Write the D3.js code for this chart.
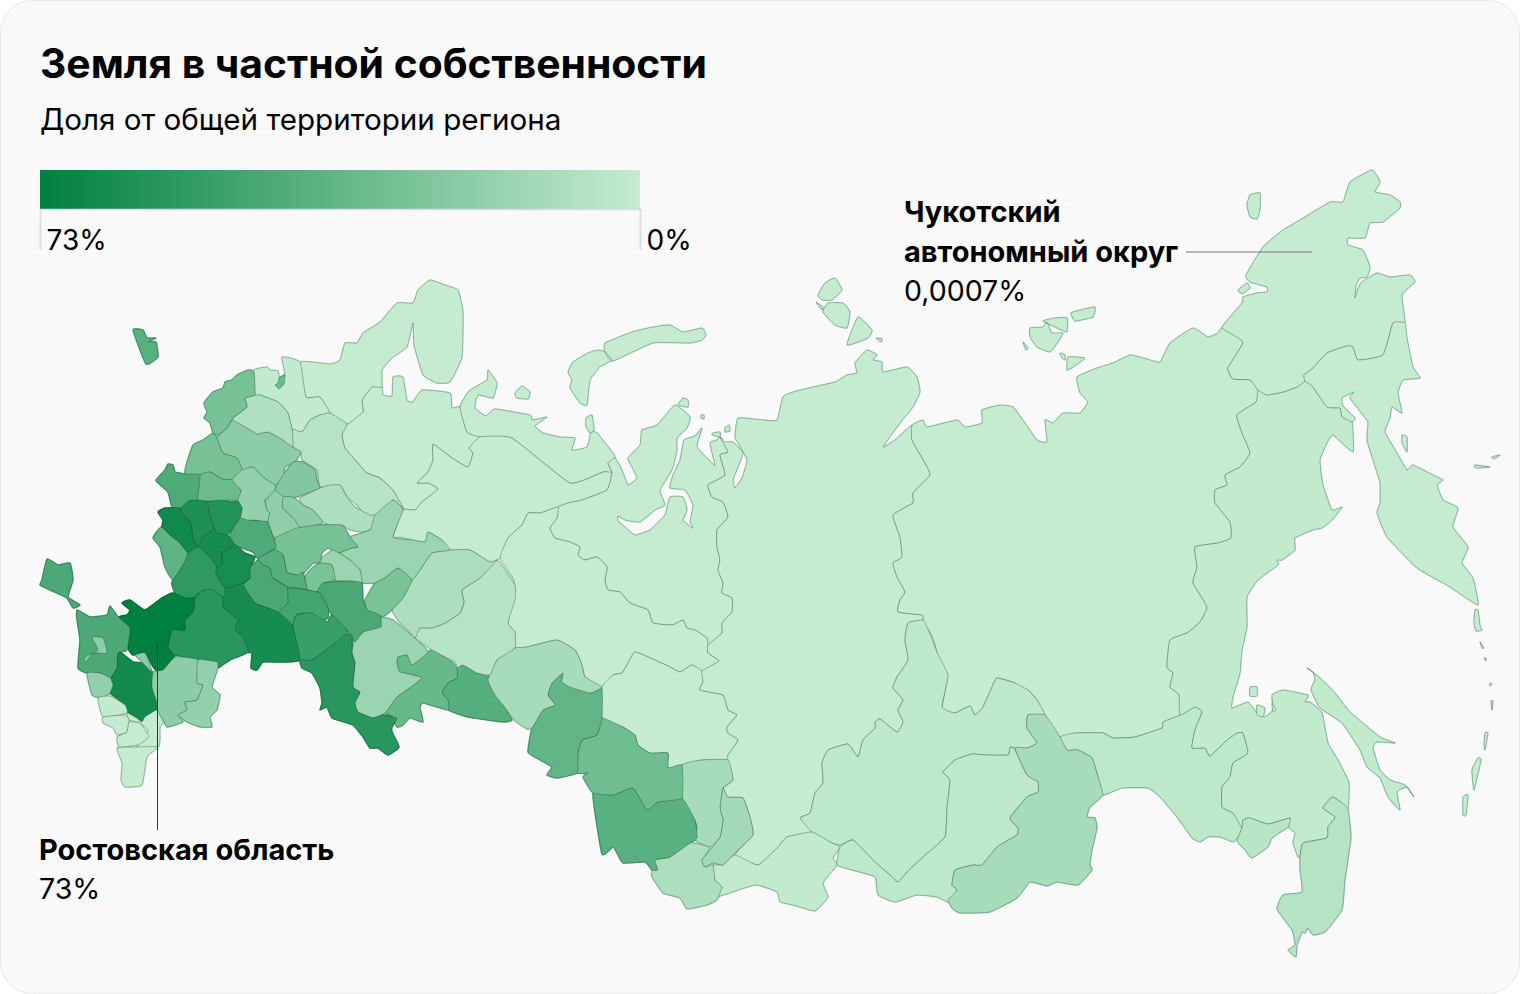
<!DOCTYPE html>
<html lang="ru">
<head>
<meta charset="utf-8">
<title>Земля в частной собственности</title>
<script src="https://cdn.jsdelivr.net/npm/d3@7"></script>
<style>
  html, body { margin: 0; padding: 0; background: #fff; }
  text { font-family: Inter, "Noto Sans", sans-serif; fill: #000; }
</style>
</head>
<body>
<svg id="chart" width="1520" height="994"></svg>
<script>
// ---------- data ----------
const titleText = 'Земля в частной собственности';
const subtitleText = 'Доля от общей территории региона';
const legendTicks = [73, 0];
const callouts = [
    { lines: ['Чукотский', 'автономный округ'], value: '0,0007%' },
    { lines: ['Ростовская область'], value: '73%' }
];

// share of private land, %. Light ones first
// because later regions are painted over the earlier ones
const regionNames = [
    'arkhangelsk', 'nenets', 'komi', 'yamal', 'khanty', 'tomsk', 'krasnoyarsk', 'yakutia', 'irkutsk', 'tuva',
    'buryatia', 'amur', 'khabarovsk', 'chukotka', 'kamchatka', 'sakhalin', 'arctic', 'murmansk', 'karelia',
    'primorye', 'jewish', 'zabaykalye', 'altaiRep', 'khakassia', 'kemerovo', 'altai', 'novosibirsk', 'omsk',
    'kurgan', 'chelyabinsk', 'sverdlovsk', 'perm', 'udmurtia', 'kirov', 'vologda', 'yaroslavl', 'tver',
    'novgorod', 'pskov', 'leningrad', 'onega', 'ivanovo', 'kostroma', 'vladimir', 'moscow', 'smolensk',
    'bryansk', 'kaluga', 'tula', 'ryazan', 'nizhny', 'mordovia', 'chuvashia', 'tatarstan', 'bashkiria',
    'ulyanovsk', 'penza', 'samara', 'orenburg', 'saratov', 'tambov', 'lipetsk', 'orel', 'kursk', 'belgorod',
    'voronezh', 'voronezhEast', 'volgograd', 'rostov', 'krasnodar', 'adygea', 'stavropol', 'sliver', 'kalmykia', 'astrakhan',
    'karachay', 'kabardino', 'ossetia', 'chechnya', 'ingushetia', 'dagestan', 'crimea', 'kaliningrad'
];
const regionShares = [
    0, 0, 0, 0, 0, 0, 0, 0, 3, 1,
    3, 3, 1, 0.0007, 0, 1, 0, 0, 1,
    6, 5, 11, 9, 13, 11, 40, 32, 37,
    41, 35, 11, 6, 16, 9, 6, 9, 21,
    8, 29, 29, 33, 33, 16, 19, 20, 44,
    38, 25, 21, 29, 28, 16, 28, 46, 42,
    46, 48, 52, 58, 65, 44, 65, 67, 62, 60,
    56, 64, 58, 73, 45, 21, 66, 21, 21, 19,
    19, 1, 0, 0, 0, 0, 45, 40
];

// outlines, map units are screen pixels
const regionOutlines = {
    arkhangelsk: ['347,424 363,412 362,400 372,387 382,387 383,395 392,396 393,377 403,377 407,400 413,402 422,390 450,393 452,408 460,407 467,432 480,437 469,448 473,453 468,467 452,458 433,444 433,460 428,472 417,483 428,483 438,489 422,502 415,510 403,508 393,490 380,478 367,473 357,462 345,448 342,435'],
    nenets: ['460,407 469,391 487,380 488,370 497,383 493,398 478,395 475,408 486,416 495,409 530,415 532,420 547,417 535,426 543,433 560,437 575,438 572,450 587,447 591,432 597,433 613,453 615,458 608,463 612,473 603,472 570,483 512,438 480,437 467,432'],
    komi: ['480,437 512,438 570,483 603,472 612,473 607,490 582,500 568,503 558,507 540,513 528,513 522,525 508,538 500,558 490,562 470,550 450,550 442,540 428,532 425,542 413,540 400,537 393,537 403,510 415,510 422,502 438,489 428,483 417,483 428,472 433,460 433,444 452,458 468,467 473,453 469,448'],
    yamal: ['558,507 568,503 582,500 607,490 612,473 608,463 615,458 622,470 628,485 637,478 632,467 628,458 640,445 642,430 657,425 675,405 690,417 687,428 677,438 677,450 672,470 660,490 665,505 655,510 640,522 625,520 618,516 618,521 625,527 635,535 650,530 665,515 670,497 683,497 687,510 683,520 692,528 693,527 690,522 693,505 685,490 670,488 673,475 680,460 684,440 695,436 702,428 697,447 712,463 715,465 710,443 717,440 720,437 728,452 720,455 725,475 708,485 712,497 723,502 728,517 717,530 717,547 720,560 718,570 723,583 722,593 732,598 732,612 722,623 722,633 708,645 707,638 695,630 687,628 683,620 672,625 653,623 648,610 630,603 620,592 608,590 605,580 607,567 597,557 585,560 578,555 580,547 570,542 555,538 550,528 557,518'],
    khanty: ['500,558 508,538 522,525 528,513 540,513 558,507 557,518 550,528 555,538 570,542 580,547 578,555 585,560 597,557 607,567 605,580 608,590 620,592 630,603 648,610 653,623 672,625 683,620 687,628 695,630 707,638 708,645 708,653 719,661 702,671 692,665 680,672 670,667 657,661 635,652 627,665 622,673 613,675 602,687 585,677 582,665 575,650 557,640 527,647 515,648 515,632 508,623 515,590 513,578'],
    tomsk: ['602,687 613,675 622,673 627,665 635,652 657,661 670,667 680,672 692,665 702,671 703,682 700,690 723,695 728,710 737,715 727,727 728,733 738,740 728,755 728,760 702,760 682,765 668,768 668,753 650,753 638,745 635,735 623,727 602,718'],
    krasnoyarsk: ['720,437 725,442 733,442 743,453 738,467 733,480 735,488 742,478 747,460 738,443 735,437 738,418 763,420 777,420 783,397 793,392 813,387 835,382 847,375 857,373 855,363 867,350 877,355 873,360 882,362 883,372 907,367 917,377 920,392 913,407 900,423 883,447 895,440 912,425 912,440 925,463 930,475 913,493 913,503 893,515 900,537 902,557 893,563 897,577 905,592 900,600 898,612 922,615 923,620 908,623 905,640 908,660 897,677 893,688 903,700 898,710 903,722 897,732 880,719 875,722 875,728 863,740 858,757 848,744 828,750 822,763 823,783 815,793 810,813 800,818 812,832 787,837 778,847 758,865 735,855 753,835 750,817 743,798 728,797 723,788 733,780 728,760 728,755 738,740 728,733 727,727 737,715 728,710 723,695 700,690 703,682 702,671 719,661 708,653 708,645 722,633 722,623 732,612 732,598 722,593 723,583 718,570 720,560 717,547 717,530 728,517 723,502 712,497 708,485 725,475 720,455 728,452'],
    yakutia: ['912,425 923,420 927,427 957,420 965,427 982,423 982,410 1000,405 1013,407 1025,423 1037,440 1047,442 1045,420 1053,423 1063,413 1080,413 1088,402 1080,393 1077,377 1097,368 1113,363 1130,355 1147,359 1160,362 1170,343 1193,328 1208,337 1218,333 1222,328 1243,342 1228,368 1233,379 1250,380 1258,390 1256,402 1237,415 1242,433 1250,453 1240,467 1225,475 1227,485 1215,490 1215,503 1230,522 1231,538 1218,543 1195,547 1197,567 1193,583 1207,607 1200,622 1187,633 1170,640 1167,667 1173,673 1170,687 1179,695 1180,715 1163,722 1162,728 1135,737 1113,738 1103,733 1075,733 1060,737 1045,715 1037,700 1028,690 1018,693 1015,683 997,678 992,687 983,707 975,715 970,706 955,713 943,713 942,707 948,675 940,670 937,652 933,638 928,629 922,628 923,620 922,615 898,612 900,600 905,592 897,577 893,563 902,557 900,537 893,515 913,503 913,493 930,475 925,463 912,440'],
    irkutsk: ['908,623 923,620 928,629 937,652 948,675 942,707 955,713 970,706 975,715 983,707 992,687 997,678 1015,683 1028,690 1037,700 1045,715 1028,715 1027,728 1037,743 1027,748 1015,748 1010,747 1008,755 985,755 972,754 955,760 943,772 950,780 947,808 945,837 923,857 907,872 898,882 890,875 875,862 853,840 840,845 832,843 812,832 800,818 810,813 815,793 823,783 822,763 828,750 848,744 858,757 863,740 875,728 875,722 880,719 897,732 903,722 898,710 903,700 893,688 897,677 908,660 905,640'],
    tuva: ['735,855 723,865 713,865 715,880 722,887 717,897 755,885 777,892 780,902 793,905 815,911 828,897 823,883 837,865 833,858 840,847 832,843 812,832 787,837 778,847 758,865'],
    buryatia: ['840,847 853,840 875,862 890,875 898,882 907,872 923,857 945,837 947,808 950,780 943,772 955,760 972,754 985,755 1008,755 1010,747 1015,750 1027,775 1038,782 1038,792 1027,797 1010,818 1018,828 1017,835 997,847 982,865 973,865 955,870 952,885 957,890 948,902 937,897 917,895 895,902 878,895 875,877 852,870 837,865'],
    amur: ['1103,795 1122,788 1148,788 1160,797 1177,817 1192,838 1200,842 1208,837 1220,837 1233,842 1238,837 1242,828 1233,813 1222,807 1222,787 1230,777 1233,763 1248,753 1243,733 1237,733 1227,740 1210,756 1205,748 1192,748 1195,730 1202,712 1195,707 1180,715 1163,722 1162,728 1135,737 1113,738 1103,733 1075,733 1060,737 1067,750 1078,750 1092,758 1098,777'],
    khabarovsk: ['1256,402 1258,390 1267,395 1283,392 1297,387 1305,381 1313,387 1327,407 1340,408 1342,417 1352,422 1353,452 1333,435 1327,443 1320,460 1323,485 1332,510 1342,507 1332,520 1322,528 1313,530 1295,538 1295,550 1282,560 1277,560 1278,565 1258,580 1247,597 1247,627 1242,650 1240,673 1233,697 1232,708 1248,702 1257,713 1265,717 1273,710 1272,695 1283,690 1308,695 1305,702 1310,702 1322,713 1328,743 1338,760 1349,783 1348,809 1342,803 1332,797 1323,808 1335,817 1328,827 1327,838 1303,843 1300,857 1298,857 1293,843 1295,833 1288,827 1290,818 1268,824 1250,818 1243,820 1242,828 1233,813 1222,807 1222,787 1230,777 1233,763 1248,753 1243,733 1237,733 1227,740 1210,756 1205,748 1192,748 1195,730 1202,712 1195,707 1180,715 1179,695 1170,687 1173,673 1167,667 1170,640 1187,633 1200,622 1207,607 1193,583 1197,567 1195,547 1218,543 1231,538 1230,522 1215,503 1215,490 1227,485 1225,475 1240,467 1250,453 1242,433 1237,415'],
    chukotka: ['1222,328 1230,317 1242,303 1243,297 1257,293 1267,292 1267,287 1250,282 1246,275 1263,247 1283,230 1300,220 1330,202 1343,202 1350,182 1372,170 1380,182 1375,192 1390,195 1400,202 1400,208 1383,222 1370,223 1365,238 1348,238 1348,245 1363,250 1370,267 1367,277 1360,278 1356,285 1355,298 1358,288 1362,282 1377,273 1390,277 1410,275 1415,282 1402,295 1405,323 1393,323 1383,355 1358,360 1353,347 1347,346 1327,353 1313,368 1304,375 1305,381 1297,387 1283,392 1267,395 1258,390 1250,380 1233,379 1228,368 1243,342'],
    kamchatka: ['1304,375 1313,368 1327,353 1347,346 1353,347 1358,360 1383,355 1393,323 1405,323 1407,338 1413,367 1420,378 1403,380 1398,393 1402,413 1392,407 1390,418 1385,432 1397,453 1407,470 1413,465 1433,475 1443,480 1437,485 1443,500 1458,508 1453,527 1468,547 1462,563 1473,578 1478,605 1450,587 1417,568 1387,537 1377,513 1380,503 1380,483 1373,460 1367,440 1368,422 1363,415 1350,398 1354,392 1342,398 1343,406 1355,418 1352,422 1342,417 1340,408 1327,407 1313,387 1305,381'],
    sakhalin: ['1307,668 1313,672 1315,680 1311,690 1320,708 1342,723 1360,750 1367,767 1380,778 1388,797 1400,810 1397,792 1407,787 1414,797 1405,785 1390,780 1380,770 1373,748 1377,742 1395,743 1380,737 1350,712 1335,693 1320,678'],
    arctic: [
        '568,372 573,362 588,353 598,350 605,352 612,360 600,367 590,380 587,405 580,403 570,388 572,380',
        '605,343 632,332 653,327 670,325 683,332 702,328 706,335 702,340 690,343 653,343 613,361 605,352',
        '515,393 522,386 530,392 528,399 517,398',
        '586,418 592,415 594,430 590,433 586,427',
        '678,405 683,398 688,400 688,407',
        '713,433 720,432 720,437 712,435',
        '725,428 729,425 730,431 725,432',
        '701,415 704,415 704,419 701,418',
        '818,295 825,283 835,278 842,290 832,300 822,300',
        '823,312 828,303 843,303 850,312 847,328 835,325',
        '847,345 858,317 872,330 868,338',
        '816,302 823,307 822,310',
        '876,338 882,339 881,342',
        '1030,328 1043,327 1047,322 1052,333 1063,333 1058,342 1050,352 1037,347 1030,337',
        '1043,321 1055,318 1067,318 1067,332 1055,327',
        '1071,313 1080,310 1095,307 1093,317 1075,321',
        '1068,357 1085,358 1073,367 1067,370',
        '1060,353 1065,355 1065,360 1062,358',
        '1023,342 1028,348 1026,350',
        '1250,195 1260,193 1260,210 1257,219 1250,217 1247,205',
        '1238,290 1247,283 1250,288 1242,294',
        '1402,435 1407,437 1407,452 1402,443',
        '1475,465 1490,467 1476,468',
        '1492,457 1500,455 1494,459',
        '1475,610 1478,610 1480,625 1482,630 1476,631 1474,622',
        '1480,642 1484,648 1482,648',
        '1484,658 1486,658 1486,661',
        '1490,683 1492,684 1490,686',
        '1491,701 1493,701 1492,710',
        '1485,733 1488,733 1485,750 1484,745',
        '1478,758 1481,760 1474,790 1472,770',
        '1463,797 1468,795 1466,815 1463,815',
        '1250,687 1257,687 1257,696 1250,696',
        '1257,705 1265,708 1263,717 1257,715',
        '1272,703 1276,710 1273,712'
    ],
    murmansk: ['430,280 445,285 458,290 463,312 462,357 450,382 437,383 423,375 414,345 413,323 407,347 392,358 382,370 382,387 372,387 362,400 363,412 347,424 330,413 320,397 306,397 300,362 330,364 340,360 345,343 357,343 363,333 380,322 397,303 413,303 418,290'],
    karelia: ['254,370 267,367 270,370 278,371 280,380 285,375 282,357 300,362 306,397 320,397 330,413 320,415 310,420 302,432 292,429 288,413 278,402 260,395 255,395'],
    primorye: ['1300,857 1303,843 1327,838 1328,827 1335,817 1323,808 1332,797 1342,803 1348,809 1351,837 1345,880 1342,910 1325,932 1313,935 1308,928 1305,933 1302,932 1297,945 1296,957 1288,950 1295,945 1292,930 1277,909 1283,895 1302,892 1300,870'],
    jewish: ['1242,828 1243,820 1250,818 1268,824 1290,818 1288,827 1272,838 1268,847 1252,858 1245,850 1237,841'],
    zabaykalye: ['1015,748 1027,748 1037,743 1027,728 1028,715 1045,715 1060,737 1067,750 1078,750 1092,758 1098,777 1103,795 1090,807 1087,817 1095,818 1097,828 1092,850 1090,865 1092,870 1078,885 1057,882 1047,886 1030,882 1017,898 990,912 960,913 952,908 948,900 957,890 952,885 955,870 973,865 982,865 997,847 1017,835 1018,828 1010,818 1027,797 1038,792 1038,782 1027,775'],
    altaiRep: ['652,870 655,860 670,857 690,843 710,847 702,860 705,867 713,865 715,880 722,887 717,900 707,905 687,909 680,898 663,893 652,877'],
    khakassia: ['723,788 728,797 743,798 750,817 753,835 735,853 723,865 713,863 705,867 702,860 712,848 720,837 723,820 720,808'],
    kemerovo: ['682,765 702,760 728,760 733,780 723,788 720,808 723,820 720,837 710,847 695,840 697,825 682,798'],
    altai: ['593,794 613,795 633,788 647,810 658,802 682,798 695,820 697,838 690,843 670,857 655,860 658,870 652,870 645,862 623,863 617,853 613,847 602,854'],
    novosibirsk: ['602,718 623,727 635,735 638,745 650,753 668,753 668,768 682,765 682,798 658,802 647,810 633,788 613,795 593,793 583,777 588,773 577,773 578,753 582,740 597,735'],
    omsk: ['562,673 563,682 590,693 602,688 602,718 597,735 582,740 578,753 577,773 557,778 547,775 552,767 540,760 528,752 532,728 543,710 555,705 548,695 552,683'],
    kurgan: ['457,668 463,665 477,673 489,673 488,680 495,695 503,705 512,720 503,722 468,717 448,710 448,700 442,693 448,683 457,678'],
    chelyabinsk: ['397,663 398,657 407,655 412,665 427,653 432,650 452,662 457,668 457,678 448,683 442,693 448,700 448,710 423,703 420,708 423,722 410,718 403,725 397,727 392,716 385,713 397,697 422,678 400,672'],
    sverdlovsk: ['488,680 497,660 515,648 527,647 557,640 575,650 582,665 585,677 602,687 590,693 570,687 562,682 563,673 552,683 548,695 555,705 543,710 532,728 527,729 515,721 503,705 495,695'],
    perm: ['462,590 480,578 497,560 515,585 515,600 508,623 515,632 515,648 497,660 490,675 477,673 463,665 457,668 455,662 432,650 415,638 420,628 432,628 445,623 460,613 464,602'],
    udmurtia: ['352,653 355,640 380,618 393,620 415,638 428,652 412,665 407,655 398,657 397,663 400,672 422,678 397,697 385,713 373,718 358,712 355,703 360,692 353,687 355,663'],
    kirov: ['392,610 403,598 412,580 420,570 432,553 450,550 470,550 490,562 497,560 480,578 462,590 464,602 460,613 445,623 432,628 420,628 415,638 408,630 400,623'],
    vologda: ['292,429 302,432 310,420 320,415 330,413 347,424 342,435 345,448 357,462 367,473 380,478 393,490 403,508 393,500 378,515 367,517 357,505 347,497 340,485 320,487 317,470 302,460 301,452 293,447'],
    yaroslavl: ['300,498 320,488 330,485 340,485 347,497 355,507 370,515 378,515 373,528 363,532 350,530 342,525 337,528 323,522 313,510 303,505'],
    tver: ['233,420 247,428 257,434 268,432 283,440 293,447 301,452 295,462 285,467 283,478 275,485 263,477 253,467 242,470 237,458 223,453 217,438 227,428'],
    novgorod: ['233,418 247,407 245,398 255,395 260,395 278,402 288,413 292,429 293,447 283,440 268,432 257,434 247,428 233,420'],
    pskov: ['213,433 217,438 223,453 237,458 242,470 232,480 222,479 210,472 200,475 185,474 187,462 193,445 203,440'],
    leningrad: ['248,370 254,372 255,395 245,398 247,407 233,418 227,428 218,435 213,433 210,423 204,418 207,412 204,403 213,392 223,388 225,382 232,380 237,375'],
    onega: ['275,385 279,389 284,384 285,375 279,378 278,383'],
    ivanovo: ['200,475 210,472 222,479 232,480 241,490 238,500 227,500 220,502 208,501 197,500'],
    kostroma: ['350,537 370,530 375,515 393,500 403,510 393,537 413,540 425,542 428,532 442,540 450,550 432,553 420,570 412,580 398,568 385,578 375,583 362,583 360,570 350,560 340,553 352,548 358,547'],
    vladimir: ['232,480 242,470 253,467 263,477 275,485 275,492 265,500 267,510 270,513 267,522 255,520 242,522 240,518 242,508 238,500 241,490'],
    moscow: ['266,500 275,490 285,497 283,508 295,520 300,528 275,538 268,522 270,513 267,510 265,500'],
    smolensk: ['156,480 165,470 168,464 173,465 175,472 185,474 200,475 197,500 189,501 181,508 172,507 168,492 158,483'],
    bryansk: ['153,538 158,530 162,527 170,535 179,542 188,553 185,562 173,580 165,567 160,547'],
    kaluga: ['283,475 293,462 303,462 315,470 317,480 320,488 310,492 297,497 285,497 275,490 278,483'],
    tula: ['283,497 293,497 303,505 313,510 323,522 317,525 305,528 300,528 295,520 283,508'],
    ryazan: ['275,538 297,528 317,525 342,525 350,537 358,547 352,548 338,553 328,548 322,553 320,563 313,563 305,572 297,575 287,572 283,555 275,550'],
    nizhny: ['365,600 375,583 385,578 398,568 412,580 403,598 392,610 382,617 367,610'],
    mordovia: ['322,558 333,550 350,560 360,570 362,583 350,581 335,580 332,565 320,563'],
    chuvashia: ['305,577 312,568 320,563 332,565 335,580 323,583 317,592 307,589'],
    tatarstan: ['317,592 323,583 350,581 362,583 363,600 367,610 380,615 381,627 363,632 355,642 347,630 332,615 328,608 320,593'],
    bashkiria: ['275,550 283,555 287,572 297,575 303,572 305,580 307,589 297,588 288,587 280,582 272,577 270,568 263,565 258,558'],
    ulyanovsk: ['250,568 258,560 263,565 270,568 272,577 280,583 288,588 288,603 278,613 268,608 255,603 243,585 250,578'],
    penza: ['288,588 307,590 320,593 328,608 328,618 317,622 307,613 295,615 293,625 278,613 288,603'],
    samara: ['293,627 297,615 312,613 327,622 332,615 347,630 345,637 330,647 312,660 300,660'],
    orenburg: ['300,660 312,660 330,647 345,635 352,635 352,653 355,663 353,687 360,692 355,703 358,712 373,718 383,715 397,718 392,727 392,732 399,747 388,755 378,748 370,748 363,737 353,725 332,718 327,707 320,710 322,703 320,688 312,673 302,668'],
    saratov: ['225,588 243,583 250,578 243,585 255,603 268,608 278,612 292,625 300,660 278,662 263,662 257,670 251,668 252,653 248,652 243,637 235,630 238,620 223,607 223,598'],
    tambov: ['230,537 232,530 240,518 247,520 267,522 273,537 276,547 258,558 253,552 242,548 235,545'],
    lipetsk: ['195,545 203,538 214,528 217,533 227,535 235,545 222,553 222,565 217,567 208,555'],
    orel: ['158,512 165,508 181,508 183,515 191,523 193,537 198,547 188,553 179,542 170,535 162,527 163,520'],
    kursk: ['181,508 189,501 198,500 208,502 209,512 214,528 203,537 198,547 193,537 191,523 183,515'],
    belgorod: ['208,502 220,500 230,502 238,502 242,508 240,518 230,532 227,535 217,533 214,528 209,512'],
    voronezh: ['172,582 185,562 188,553 198,547 208,555 217,567 216,573 225,588 225,597 215,593 203,590 193,598 185,600 175,593'],
    voronezhEast: ['217,567 222,565 222,553 235,545 245,553 255,557 250,568 250,578 243,583 225,588 216,573'],
    volgograd: ['195,598 205,590 213,590 223,598 223,607 238,620 235,630 243,637 248,652 230,660 218,668 217,662 198,660 190,658 175,655 168,647 172,630 185,630 185,620 193,612'],
    rostov: ['122,603 130,600 145,610 162,598 173,593 187,598 195,598 193,612 185,620 185,630 172,630 168,647 175,657 180,662 170,668 158,672 152,665 145,653 133,655 128,648 130,628 119,617 127,615 130,610'],
    krasnodar: ['77,610 90,617 107,615 110,606 118,617 130,628 127,650 118,653 117,668 110,678 100,673 87,673 78,668 80,640 77,620'],
    adygea: ['85,663 93,653 107,653 103,638 92,637 98,650 85,657'],
    stavropol: ['120,652 133,662 143,663 153,673 152,687 157,703 157,710 145,717 142,722 135,717 127,712 125,705 110,693 112,677 117,668 118,655'],
    sliver: ['135,655 145,653 152,672 140,660'],
    kalmykia: ['153,672 163,670 175,657 190,658 198,660 197,683 203,685 197,700 185,702 187,710 178,715 183,722 167,727 162,717 157,712 157,703 152,687'],
    astrakhan: ['198,660 217,662 218,668 212,687 220,695 217,710 210,717 212,727 200,727 187,722 178,715 187,710 185,702 197,700 203,685 197,683'],
    karachay: ['87,673 100,673 110,678 113,685 110,693 102,698 92,695'],
    kabardino: ['98,698 110,696 125,705 127,713 103,717'],
    ossetia: ['135,717 142,722 145,717 157,710 163,723 160,727 160,740 158,747 137,747 145,735 148,730 140,723 129,720 127,713'],
    chechnya: ['103,717 125,715 129,720 127,732 117,735 113,728 103,723'],
    ingushetia: ['117,737 127,732 129,722 140,723 145,730 149,737 138,745 119,747'],
    dagestan: ['117,748 137,747 158,747 147,757 142,785 125,787 121,780 122,763'],
    crimea: ['47,559 58,565 70,563 73,580 68,597 80,605 73,608 67,598 50,590 40,585 42,580'],
    kaliningrad: ['133,330 143,330 147,338 156,338 148,342 156,342 158,357 146,364']
};

// ---------- scales ----------
const legendX = d3.scaleLinear().domain([73, 0]).range([40, 640]);
const color = d3.scaleLinear().domain([73, 0]).range(['#008040', '#c5ecd0']);

const svg = d3.select('#chart');

// card behind everything
svg.append('rect')
    .attr('x', 0.5).attr('y', 0.5)
    .attr('width', 1519).attr('height', 993)
    .attr('rx', 32)
    .attr('fill', '#f9f9f9')
    .attr('stroke', '#e6e6e6');

// title block
svg.append('text').attr('x', 40).attr('y', 78)
    .attr('font-size', 40.8).attr('font-weight', 700)
    .text(titleText);
svg.append('text').attr('x', 40).attr('y', 130)
    .attr('font-size', 29.6).attr('font-weight', 400)
    .text(subtitleText);

// legend gradient, stops come from the same colour scale
const grad = svg.append('defs').append('linearGradient').attr('id', 'legend-grad');
grad.selectAll('stop')
    .data(legendTicks)
    .join('stop')
    .attr('offset', d => (legendX(d) - 40) / 600)
    .attr('stop-color', d => color(d));

svg.append('rect')
    .attr('x', 40).attr('y', 170)
    .attr('width', 600).attr('height', 39)
    .attr('fill', 'url(#legend-grad)');

const legendAxis = d3.axisBottom(legendX)
    .tickValues(legendTicks)
    .tickSize(41)
    .tickFormat(d => d + '%');
const legendG = svg.append('g')
    .attr('transform', 'translate(0,209)')
    .call(legendAxis);
legendG.select('.domain').attr('stroke', '#dcdcdc').attr('stroke-width', 1.5);
legendG.selectAll('.tick line').attr('stroke', '#dcdcdc').attr('stroke-width', 1.5);
legendG.selectAll('.tick text')
    .attr('text-anchor', 'start')
    .attr('x', 6).attr('y', 41).attr('dy', 0)
    .attr('font-size', 28).attr('font-family', 'Inter');

// map, a tight cardinal curve only takes the sharpest corners off the traced rings
const ringPath = d3.line().curve(d3.curveCardinalClosed.tension(0.6));
const regions = regionNames.map((name, i) => ({
    name,
    share: regionShares[i],
    d: regionOutlines[name]
        .map(ring => ringPath(ring.split(' ').map(p => p.split(',').map(Number))))
        .join('')
}));

const map = svg.append('g');

// same shapes in their own colour first, it closes hairline gaps between neighbours
map.append('g').selectAll('path')
    .data(regions)
    .join('path')
    .attr('d', d => d.d)
    .attr('fill', d => color(d.share))
    .attr('stroke', d => color(d.share))
    .attr('stroke-width', 1.6);

map.append('g').selectAll('path')
    .data(regions)
    .join('path')
    .attr('d', d => d.d)
    .attr('fill', d => color(d.share))
    .attr('stroke', '#1d3d2c')
    .attr('stroke-opacity', 0.42)
    .attr('stroke-width', 0.8)
    .attr('stroke-linejoin', 'round');

// callouts
svg.append('line')
    .attr('x1', 157.5).attr('x2', 157.5).attr('y1', 642).attr('y2', 830)
    .attr('stroke', '#333');
svg.append('line')
    .attr('x1', 1186).attr('x2', 1312).attr('y1', 252).attr('y2', 252)
    .attr('stroke', '#777');

const chukotkaNote = svg.append('text').attr('x', 904);
chukotkaNote.append('tspan').attr('x', 904).attr('y', 222).attr('font-size', 29).attr('font-weight', 700).text(callouts[0].lines[0]);
chukotkaNote.append('tspan').attr('x', 904).attr('y', 262).attr('font-size', 29).attr('font-weight', 700).text(callouts[0].lines[1]);
chukotkaNote.append('tspan').attr('x', 904).attr('y', 301).attr('font-size', 28.5).text(callouts[0].value);

const rostovNote = svg.append('text').attr('x', 39);
rostovNote.append('tspan').attr('x', 39).attr('y', 860).attr('font-size', 29).attr('font-weight', 700).text(callouts[1].lines[0]);
rostovNote.append('tspan').attr('x', 39).attr('y', 899).attr('font-size', 28.5).text(callouts[1].value);
</script>
</body>
</html>
